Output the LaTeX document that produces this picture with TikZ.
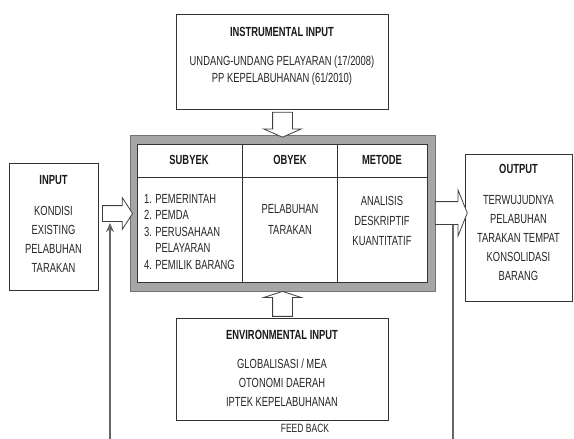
\documentclass[tikz,border=0pt]{standalone}
\usepackage{fontspec}
\setmainfont[FakeStretch=0.71]{Liberation Sans}
\usetikzlibrary{shapes.arrows,arrows.meta}

\begin{document}
\begin{tikzpicture}[x=1pt,y=-1pt,
  bnode/.style={draw=black!80,line width=0.8pt,fill=white,inner sep=0pt},
  tnode/.style={text=black!85,font=\fontsize{13.2}{19}\selectfont,align=center,inner sep=0pt},
  hnode/.style={text=black!90,font=\fontsize{13.2}{15}\selectfont\bfseries,inner sep=0pt},
  anode/.style={single arrow,draw=black!75,line width=0.8pt,fill=white,inner xsep=0pt,minimum width=0pt},
  fbline/.style={draw=black!60,line width=2.2pt,-{Stealth[length=9pt,width=8pt]}}]
    \useasboundingbox (0,0) rectangle (574,439);

    % boxes
    \node[bnode, minimum width=212pt, minimum height=95pt] (instr) at (282,61.5) {};
    \node[bnode, minimum width=89pt, minimum height=127pt] (inp) at (53.5,226.5) {};
    \node[bnode, minimum width=107pt, minimum height=147pt] (outp) at (518.5,227.5) {};
    \node[bnode, minimum width=212pt, minimum height=102pt] (env) at (282,369) {};
    \node[draw=black!55, fill=black!35, line width=0.6pt, minimum width=305pt, minimum height=156pt] (main) at (282.5,213.5) {};
    \node[bnode, minimum width=290pt, minimum height=138pt] (tab) at (282,213) {};
    \draw[draw=black!80, line width=0.8pt] (137,177) -- (427,177);
    \draw[draw=black!80, line width=0.8pt] (242,144) -- (242,282);
    \draw[draw=black!80, line width=0.8pt] (337,144) -- (337,282);

    % block arrows
    \node[anode, rotate=-90, inner ysep=9.5pt, single arrow head extend=9pt, single arrow tip angle=133, minimum height=25pt] (ia) at (282.5,122.5) {};
    \node[anode, rotate=90, inner ysep=9.5pt, single arrow head extend=9pt, single arrow tip angle=144, minimum height=25pt] (ea) at (282.5,305.5) {};
    \node[anode, inner ysep=7.5pt, single arrow head extend=8pt, single arrow tip angle=114, minimum height=30pt] (xa) at (115,213.5) {};
    \node[anode, inner ysep=11pt, single arrow head extend=11.5pt, single arrow tip angle=136, minimum height=32pt] (oa) at (449,213) {};

    % feed back
    \coordinate (fbs) at (453,225);
    \coordinate (fbr) at (453,445);
    \coordinate (fbl) at (110,445);
    \coordinate (fbe) at (110,223);
    \draw[fbline] (fbs) -- (fbr) -- (fbl) -- (fbe);

    % texts
    \node[hnode] (instrt) at (282,32) {INSTRUMENTAL INPUT};
    \node[tnode, font=\fontsize{13.2}{17}\selectfont] (instrb) at (282,70.5) {UNDANG-UNDANG PELAYARAN (17/2008)\\PP KEPELABUHANAN (61/2010)};
    \node[hnode] (inpt) at (53.5,180) {INPUT};
    \node[tnode] (inpb) at (53.5,239) {KONDISI\\EXISTING\\PELABUHAN\\TARAKAN};
    \node[hnode] (outpt) at (518.5,169) {OUTPUT};
    \node[tnode] (outpb) at (518.5,238.5) {TERWUJUDNYA\\PELABUHAN\\TARAKAN TEMPAT\\KONSOLIDASI\\BARANG};
    \node[hnode] (envt) at (282,335) {ENVIRONMENTAL INPUT};
    \node[tnode] (envb) at (282,383) {GLOBALISASI / MEA\\OTONOMI DAERAH\\IPTEK KEPELABUHANAN};
    \node[hnode] (subh) at (189,160) {SUBYEK};
    \node[hnode] (obyh) at (290,160) {OBYEK};
    \node[hnode] (meth) at (382,160) {METODE};
    \node[tnode, anchor=west, align=left, font=\fontsize{13.2}{16.5}\selectfont] (subb) at (144,232) {1. PEMERINTAH\\2. PEMDA\\3. PERUSAHAAN\\\phantom{3. }PELAYARAN\\4. PEMILIK BARANG};
    \node[tnode, font=\fontsize{13.2}{21}\selectfont] (obyb) at (290,219.5) {PELABUHAN\\TARAKAN};
    \node[tnode, font=\fontsize{13.2}{20}\selectfont] (metb) at (382,221) {ANALISIS\\DESKRIPTIF\\KUANTITATIF};
    \node[tnode, font=\fontsize{12}{13}\selectfont] (fb) at (305,428) {FEED BACK};

\end{tikzpicture}
\end{document}
